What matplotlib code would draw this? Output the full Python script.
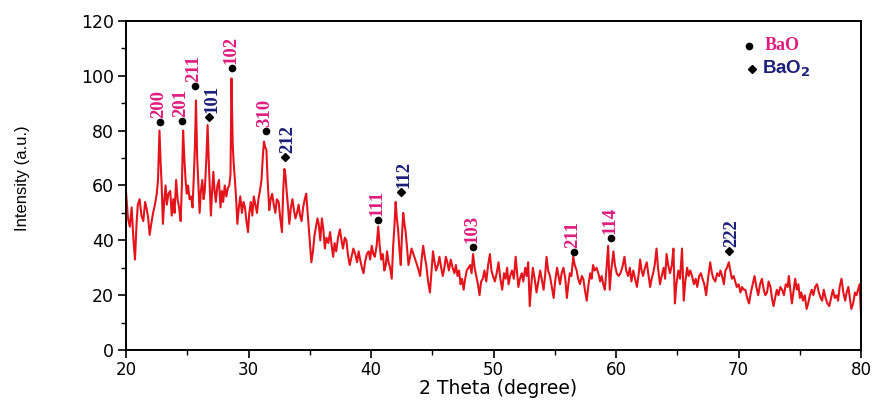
import matplotlib
matplotlib.use("Agg")
import matplotlib.pyplot as plt
from matplotlib.ticker import MultipleLocator

# ---- data ----
two_theta = [
20.0,20.15,20.3,20.45,20.6,20.72,20.85,20.95,21.1,21.25,21.4,21.55,21.7,21.8,21.92,22.05,22.2,22.35,22.5,22.6,
22.72,22.82,22.9,23.0,23.12,23.22,23.32,23.45,23.6,23.72,23.85,23.95,24.08,24.2,24.32,24.45,24.55,24.65,24.75,24.85,
24.95,25.05,25.18,25.3,25.42,25.55,25.62,25.7,25.8,25.9,26.0,26.1,26.22,26.32,26.42,26.55,26.65,26.75,26.85,26.92,
27.02,27.12,27.22,27.32,27.45,27.58,27.7,27.82,27.92,28.05,28.18,28.3,28.42,28.52,28.6,28.7,28.78,28.88,28.98,29.08,
29.2,29.32,29.45,29.58,29.7,29.82,29.95,30.05,30.18,30.3,30.42,30.55,30.68,30.8,30.92,31.05,31.15,31.25,31.35,31.45,
31.55,31.68,31.8,31.92,32.05,32.18,32.3,32.45,32.58,32.72,32.82,32.92,33.0,33.1,33.22,33.32,33.45,33.58,33.7,33.82,
33.95,34.08,34.2,34.32,34.45,34.58,34.7,34.82,34.92,35.02,35.12,35.25,35.38,35.5,35.62,35.72,35.85,35.98,36.1,36.22,
36.35,36.5,36.65,36.78,36.9,37.02,37.15,37.3,37.45,37.58,37.7,37.85,37.98,38.1,38.25,38.4,38.55,38.7,38.85,38.98,
39.1,39.25,39.38,39.5,39.65,39.8,39.92,40.05,40.18,40.3,40.45,40.58,40.7,40.82,40.95,41.08,41.2,41.3,41.42,41.55,
41.68,41.8,41.9,42.0,42.1,42.2,42.32,42.42,42.52,42.62,42.72,42.82,42.95,43.05,43.18,43.3,43.45,43.6,43.75,43.88,
44.0,44.12,44.25,44.38,44.5,44.65,44.8,44.92,45.05,45.18,45.3,45.45,45.58,45.72,45.85,45.98,46.1,46.22,46.35,46.5,
46.65,46.8,46.92,47.05,47.18,47.3,47.42,47.55,47.68,47.8,47.95,48.08,48.2,48.32,48.45,48.58,48.72,48.85,48.98,49.12,
49.25,49.4,49.55,49.7,49.82,49.95,50.1,50.25,50.4,50.55,50.7,50.85,50.98,51.1,51.22,51.35,51.5,51.65,51.8,51.92,
52.02,52.15,52.3,52.42,52.58,52.7,52.82,52.95,53.08,53.2,53.35,53.5,53.65,53.8,53.92,54.08,54.2,54.32,54.45,54.6,
54.75,54.9,55.02,55.18,55.3,55.42,55.55,55.7,55.85,55.98,56.1,56.22,56.35,56.5,56.62,56.78,56.9,57.05,57.2,57.32,
57.45,57.6,57.72,57.88,58.0,58.12,58.25,58.4,58.55,58.7,58.82,58.95,59.08,59.22,59.35,59.48,59.6,59.78,59.9,60.05,
60.2,60.35,60.5,60.68,60.82,60.98,61.12,61.25,61.4,61.55,61.7,61.85,61.96,62.08,62.2,62.35,62.5,62.62,62.78,62.9,
63.02,63.15,63.3,63.42,63.58,63.72,63.88,64.0,64.12,64.25,64.4,64.55,64.68,64.8,64.92,65.08,65.22,65.38,65.52,65.65,
65.8,65.92,66.05,66.2,66.35,66.5,66.62,66.78,66.92,67.05,67.2,67.35,67.5,67.68,67.82,67.95,68.1,68.25,68.4,68.52,
68.65,68.8,68.92,69.05,69.2,69.32,69.45,69.6,69.72,69.85,70.0,70.15,70.28,70.42,70.55,70.7,70.85,71.0,71.15,71.3,
71.45,71.6,71.75,71.9,72.05,72.18,72.32,72.45,72.6,72.72,72.85,72.98,73.12,73.25,73.4,73.55,73.7,73.85,74.0,74.1,
74.22,74.35,74.5,74.62,74.75,74.88,75.0,75.12,75.25,75.4,75.55,75.68,75.82,75.97,76.1,76.25,76.4,76.55,76.7,76.82,
76.95,77.1,77.25,77.4,77.55,77.7,77.85,78.0,78.12,78.25,78.4,78.55,78.7,78.82,78.96,79.08,79.2,79.35,79.5,79.62,
79.75,79.88,79.95,80.0]

intensity = [
57,48,45,52,40,33,46,53,55,49,47,54,51,48,42,46,50,53,57,62,
80,68,60,46,55,60,53,57,58,49,55,50,62,55,52,47,60,80,70,62,
57,60,55,56,52,66,75,91,70,60,50,58,62,55,58,70,82,68,57,49,
58,65,58,54,60,62,52,58,54,60,56,59,60,64,99,75,68,62,55,46,
52,56,50,54,52,47,43,50,54,49,56,53,50,55,58,62,70,76,74,73,
62,51,55,57,53,50,55,54,48,43,58,66,64,58,52,46,52,55,51,48,
50,53,49,47,52,55,57,50,44,38,32,36,42,45,48,46,40,48,44,37,
41,39,43,38,34,39,36,41,44,40,37,41,40,35,31,34,37,35,32,36,
33,30,28,32,35,36,33,38,35,34,38,45,38,33,35,29,31,36,32,30,
26,38,45,54,48,44,36,31,42,50,46,43,36,31,34,37,35,33,31,29,
27,33,38,34,31,25,21,28,36,32,29,31,34,30,27,30,34,32,29,33,
30,28,31,27,29,24,26,22,26,29,30,31,28,35,30,27,24,20,25,26,
29,25,31,35,29,27,25,28,32,26,22,28,26,30,24,27,29,26,34,28,
23,26,28,25,30,27,32,16,24,30,26,21,25,29,26,22,27,34,29,27,
23,19,25,30,27,24,28,30,26,19,24,28,27,34,31,29,26,24,27,26,
22,18,23,28,26,31,29,30,28,25,27,24,22,30,38,22,29,36,31,28,
27,28,30,34,29,27,30,25,29,26,23,28,33,29,27,30,32,28,23,26,
28,31,37,30,24,27,30,26,35,31,28,31,37,17,24,29,26,37,18,25,
30,27,29,27,24,26,23,27,28,26,24,20,26,32,28,26,25,28,27,29,
27,24,29,30,32,29,26,27,25,23,24,21,23,22,22,19,17,21,24,27,
23,20,24,26,22,20,21,25,23,19,16,19,22,20,23,22,20,24,23,27,
22,17,22,26,22,24,19,21,18,20,15,17,20,22,20,23,24,21,19,18,
22,19,17,16,19,22,19,20,18,23,26,21,18,21,23,19,15,17,21,20,
22,24,17,12]

# peak assignments
bao_hkl = ["200", "201", "211", "102", "310", "111", "103", "211", "114"]
bao_pos = [22.78, 24.57, 25.63, 28.65, 31.43, 40.57, 48.33, 56.57, 59.6]
bao_mark = [83.2, 83.5, 96.3, 102.9, 79.9, 47.4, 37.6, 35.7, 40.8]

bao2_hkl = ["101", "212", "112", "222"]
bao2_pos = [26.78, 32.98, 42.45, 69.2]
bao2_mark = [85.0, 70.4, 57.6, 36.1]

x_ticks = [20, 30, 40, 50, 60, 70, 80]
y_ticks = [0, 20, 40, 60, 80, 100, 120]

PINK = "#DE1E7E"
NAVY = "#1B1F78"

fig = plt.figure(figsize=(8.76, 4.01), dpi=100)
ax = fig.add_axes([0.144, 0.127, 0.839, 0.821])

ax.plot(two_theta, intensity, color="#E3141B", lw=1.5)

for lab, x, y in zip(bao_hkl, bao_pos, bao_mark):
    ax.plot(x, y, "o", color="black", ms=4.5)
    ax.annotate(lab, (x, y), xytext=(-1, 3), textcoords="offset points",
                rotation=90, ha="center", va="bottom", color=PINK,
                fontsize=13.5, fontweight="bold", family="Liberation Serif")
for lab, x, y in zip(bao2_hkl, bao2_pos, bao2_mark):
    ax.plot(x, y, "D", color="black", ms=4.5)
    ax.annotate(lab, (x, y), xytext=(2, 3), textcoords="offset points",
                rotation=90, ha="center", va="bottom", color=NAVY,
                fontsize=13.5, fontweight="bold", family="Liberation Serif")

# legend-like key
ax.plot(70.86, 110.9, "o", color="black", ms=4.5)
ax.text(72.1, 110.9, "BaO", color=PINK, fontsize=13, fontweight="bold",
        family="Liberation Serif", va="center", ha="left")
ax.plot(71.1, 102.5, "D", color="black", ms=4.5)
ax.text(71.9, 102.5, r"BaO$_{\mathbf{2}}$", color=NAVY, fontsize=13.5,
        fontweight="bold", family="Liberation Sans", va="center", ha="left")

ax.set_xlim(20, 80)
ax.set_ylim(0, 120)
ax.set_xticks(x_ticks)
ax.set_yticks(y_ticks)
ax.xaxis.set_minor_locator(MultipleLocator(5))
ax.yaxis.set_minor_locator(MultipleLocator(10))
ax.tick_params(which="major", direction="out", length=6, width=1.2,
               labelsize=12, pad=2)
ax.tick_params(axis="y", which="major", labelsize=12.5, pad=3)
ax.tick_params(which="minor", direction="out", length=3.5, width=1.0)
for lab in ax.get_xticklabels() + ax.get_yticklabels():
    lab.set_family("DejaVu Sans")
for s in ax.spines.values():
    s.set_linewidth(1.4)

fig.text(0.568, 0.030, "2 Theta (degree)", fontsize=13.5, family="DejaVu Sans",
         ha="center", va="center")
fig.text(0.026, 0.555, "Intensity (a.u.)", fontsize=12, family="Liberation Sans",
         rotation=90, ha="center", va="center")

fig.savefig("out.png", dpi=100)
